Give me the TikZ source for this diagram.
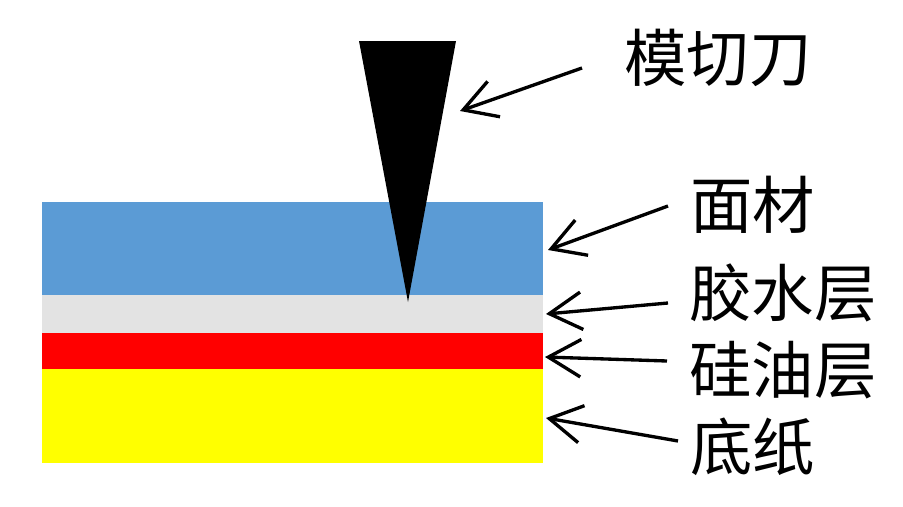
\documentclass[tikz,border=0pt]{standalone}
\usepackage{fontspec}
\newfontfamily\cjk{Noto Sans CJK SC}
\usetikzlibrary{arrows.meta}
\definecolor{facecol}{RGB}{91,155,213}
\definecolor{gluecol}{RGB}{227,227,227}
\definecolor{oilcol}{RGB}{255,0,0}
\definecolor{papercol}{RGB}{255,255,0}

\begin{document}
\begin{tikzpicture}[x=0.02cm, y=-0.02cm,
		layer/.style={draw=none, inner sep=0pt, outer sep=0pt, anchor=north west, minimum width=10.02cm},
		lbl/.style={font=\cjk\fontsize{35.5}{42}\selectfont, inner sep=0pt, anchor=west},
		pointer/.style={line width=1.9pt, -{Straight Barb[length=6.5mm, width=7.5mm]}},
		]
		\useasboundingbox (0,0) rectangle (903,507);
		
		% layers
		\node[layer, fill=facecol, minimum height=1.86cm] (face) at (42,202) {};
		\node[layer, fill=gluecol, minimum height=0.76cm] (glue) at (face.south west) {};
		\node[layer, fill=oilcol, minimum height=0.72cm] (oil) at (glue.south west) {};
		\node[layer, fill=papercol, minimum height=1.88cm] (paper) at (oil.south west) {};
		
		% knife
		\fill (359,41) -- (456,41) -- (408,302) -- cycle;
		
		\node[lbl] (lknife) at (624,58) {模切刀};
		\node[lbl] (lface) at (690,205) {面材};
		\node[lbl] (lglue) at (689,293) {胶水层};
		\node[lbl] (loil) at (689,370) {硅油层};
		\node[lbl] (lpaper) at (690,447) {底纸};
		
		\coordinate (tknife) at (582,68);
		\coordinate (hknife) at (460,111);
		\coordinate (tface) at (668,206);
		\coordinate (hface) at (548,250);
		\coordinate (tglue) at (668,303);
		\coordinate (hglue) at (546,314);
		\coordinate (toil) at (667,361);
		\coordinate (hoil) at (545,357);
		\coordinate (tpaper) at (678,441);
		\coordinate (hpaper) at (546,418);
		
		\draw[pointer] (tknife) to (hknife);
		\draw[pointer] (tface) to (hface);
		\draw[pointer] (tglue) to (hglue);
		\draw[pointer] (toil) to (hoil);
		\draw[pointer] (tpaper) to (hpaper);
		
\end{tikzpicture}
\end{document}
